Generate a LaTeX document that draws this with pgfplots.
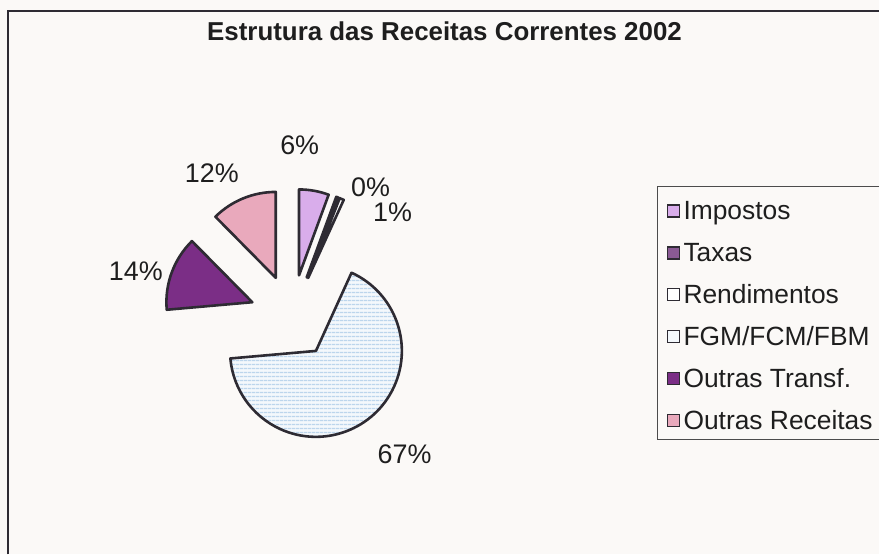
\documentclass[border=0pt]{standalone}
\usepackage{fontspec}
\setmainfont{Liberation Sans}
\usepackage{pgfplots}
\pgfplotsset{compat=1.18}
\usepackage{pgfplotstable}
\usetikzlibrary{patterns.meta}

\definecolor{bg}{HTML}{FBF9F7}
\definecolor{c0}{HTML}{D9ADEB}
\definecolor{c1}{HTML}{8A5A94}
\definecolor{c2}{HTML}{FFFFFF}
\definecolor{c3}{HTML}{F4F8FC}
\definecolor{c4}{HTML}{7B2E86}
\definecolor{c5}{HTML}{E9A9BC}
\definecolor{stripe}{HTML}{BCD5EC}
\definecolor{edge}{HTML}{2E2B33}
\definecolor{txt}{HTML}{1E1E1E}

% share of each revenue source (percent), label baseline position
\pgfplotstableread[col sep=comma]{
name,pct,lx,ly
Impostos,5.6,300,400
Taxas,0.4,371,358
Rendimentos,0.8,393,333
FGM/FCM/FBM,66.8,405,91
Outras Transf.,14.0,136,274
Outras Receitas,12.4,212,372
}\slices

\def\cx{292}\def\cy{238}\def\dexp{42}
\def\curstart{90}
\pgfplotsforeachungrouped \i in {0,...,5}{%
  \pgfplotstablegetelem{\i}{pct}\of\slices
  \let\sv\pgfplotsretval
  \pgfmathsetmacro\curend{\curstart-3.6*\sv}%
  \pgfmathsetmacro\midang{(\curstart+\curend)/2}%
  \pgfmathsetmacro\ox{\cx+\dexp*cos(\midang)}%
  \pgfmathsetmacro\oy{\cy+\dexp*sin(\midang)}%
  \pgfmathsetmacro\lab{int(round(\sv))}%
  \expandafter\xdef\csname sA\i\endcsname{\curstart}%
  \expandafter\xdef\csname sB\i\endcsname{\curend}%
  \expandafter\xdef\csname sX\i\endcsname{\ox}%
  \expandafter\xdef\csname sY\i\endcsname{\oy}%
  \expandafter\xdef\csname sL\i\endcsname{\lab}%
  \pgfplotstablegetelem{\i}{lx}\of\slices
  \expandafter\xdef\csname lX\i\endcsname{\pgfplotsretval}%
  \pgfplotstablegetelem{\i}{ly}\of\slices
  \expandafter\xdef\csname lY\i\endcsname{\pgfplotsretval}%
  \pgfplotstablegetelem{\i}{name}\of\slices
  \expandafter\xdef\csname sN\i\endcsname{\pgfplotsretval}%
  \pgfmathsetmacro\ga{344-42*\i-6}%
  \pgfmathsetmacro\gb{344-42*\i+6}%
  \pgfmathsetmacro\gt{344-42*\i-9}%
  \expandafter\xdef\csname gA\i\endcsname{\ga}%
  \expandafter\xdef\csname gB\i\endcsname{\gb}%
  \expandafter\xdef\csname gT\i\endcsname{\gt}%
  \global\let\curstart\curend
}

\begin{document}
\begin{tikzpicture}
\begin{axis}[x=1bp,y=1bp,xmin=0,xmax=880,ymin=0,ymax=555,hide axis,clip=false]
\fill[bg] (axis cs:0,0) rectangle (axis cs:880,555);
\draw[edge,line width=1.8bp] (axis cs:8,0) -- (axis cs:8,544) -- (axis cs:880,544);
\node[anchor=base,text=txt,font=\bfseries\fontsize{26}{30}\selectfont] at (axis cs:445,514) {Estrutura das Receitas Correntes 2002};

% wedges
\pgfplotsinvokeforeach{0,...,5}{
  \fill[c#1] (axis cs:\csname sX#1\endcsname,\csname sY#1\endcsname) -- ++(\csname sA#1\endcsname:86bp)
     arc[start angle=\csname sA#1\endcsname, end angle=\csname sB#1\endcsname, radius=86bp] -- cycle;
}
\pgfplotsinvokeforeach{3}{
  \fill[pattern={Lines[angle=0,distance=3.6bp,line width=1.4bp]},pattern color=stripe]
    (axis cs:\csname sX#1\endcsname,\csname sY#1\endcsname) -- ++(\csname sA#1\endcsname:86bp)
     arc[start angle=\csname sA#1\endcsname, end angle=\csname sB#1\endcsname, radius=86bp] -- cycle;
}
\pgfplotsinvokeforeach{0,...,5}{
  \draw[edge,line width=2.6bp,line join=round] (axis cs:\csname sX#1\endcsname,\csname sY#1\endcsname) -- ++(\csname sA#1\endcsname:86bp)
     arc[start angle=\csname sA#1\endcsname, end angle=\csname sB#1\endcsname, radius=86bp] -- cycle;
  \node[anchor=base,text=txt,font=\fontsize{27}{30}\selectfont] at (axis cs:\csname lX#1\endcsname,\csname lY#1\endcsname) {\csname sL#1\endcsname\%};
}

% legend
\draw[gray!60!black,line width=1.2bp] (axis cs:880,368) -- (axis cs:658,368) -- (axis cs:658,115) -- (axis cs:880,115);
\pgfplotsinvokeforeach{0,...,5}{
  \filldraw[fill=c#1,draw=edge,line width=1.6bp] (axis cs:668,\csname gA#1\endcsname) rectangle (axis cs:680,\csname gB#1\endcsname);
  \node[anchor=base west,inner sep=0pt,text=txt,font=\fontsize{26.5}{30}\selectfont] at (axis cs:684,\csname gT#1\endcsname) {\csname sN#1\endcsname};
}
\end{axis}
\end{tikzpicture}
\end{document}
